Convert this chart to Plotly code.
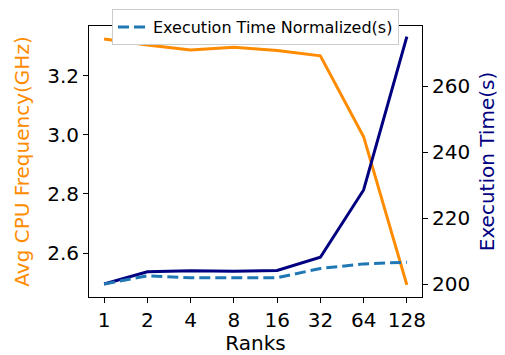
import plotly.graph_objects as go

ranks = ["1", "2", "4", "8", "16", "32", "64", "128"]
avg_freq = [3.325, 3.305, 3.288, 3.297, 3.286, 3.268, 2.994, 2.492]
exec_time = [200.0, 203.7, 204.0, 203.9, 204.1, 208.1, 228.5, 275.0]
exec_norm = [200.0, 202.5, 201.9, 202.0, 201.9, 204.7, 206.1, 206.6]

xs = list(range(len(ranks)))
FONT = "DejaVu Sans"
fig = go.Figure()
fig.add_trace(go.Scatter(x=xs, y=avg_freq, mode="lines", line=dict(color="#ff8c00", width=3),
                         showlegend=False, yaxis="y"))
fig.add_trace(go.Scatter(x=xs, y=exec_time, mode="lines", line=dict(color="#000080", width=3),
                         showlegend=False, yaxis="y2"))
fig.add_trace(go.Scatter(x=xs, y=exec_norm, mode="lines", name="Execution Time Normalized(s)",
                         line=dict(color="#1f77b4", width=3, dash="11px,5px"), yaxis="y2"))

axis_common = dict(showline=True, linecolor="black", linewidth=1, ticks="outside", ticklen=5,
                   tickcolor="black", showgrid=False, zeroline=False, automargin=False,
                   tickfont=dict(family=FONT, size=20, color="black"))
# page body has an 8px margin, so the figure is 8px smaller and margins shifted
fig.update_layout(
    width=497, height=347,
    margin=dict(l=81, r=83, t=18, b=58, autoexpand=False),
    paper_bgcolor="white", plot_bgcolor="white",
    font=dict(family=FONT),
    xaxis=dict(range=[-0.35, 7.35], tickvals=xs, ticktext=ranks, mirror=True,
               title=dict(text="Ranks", font=dict(family=FONT, size=20, color="black"), standoff=4),
               **axis_common),
    yaxis=dict(range=[2.451, 3.369], tickvals=[2.6, 2.8, 3.0, 3.2], ticktext=["2.6", "2.8", "3.0", "3.2"],
               title=dict(text="Avg CPU Frequency(GHz)", font=dict(family=FONT, size=20, color="#ff8c00"), standoff=12),
               **axis_common),
    yaxis2=dict(range=[196.06, 278.2], tickvals=[200, 220, 240, 260], overlaying="y", side="right",
                title=dict(text="Execution Time(s)", font=dict(family=FONT, size=20, color="#000080"), standoff=10),
                **axis_common),
    legend=dict(x=0.5, xanchor="center", yref="container", y=0.997, yanchor="top", bgcolor="white",
                bordercolor="#cccccc", borderwidth=1, font=dict(family=FONT, size=16, color="black")),
)
fig.write_html("out.html")
